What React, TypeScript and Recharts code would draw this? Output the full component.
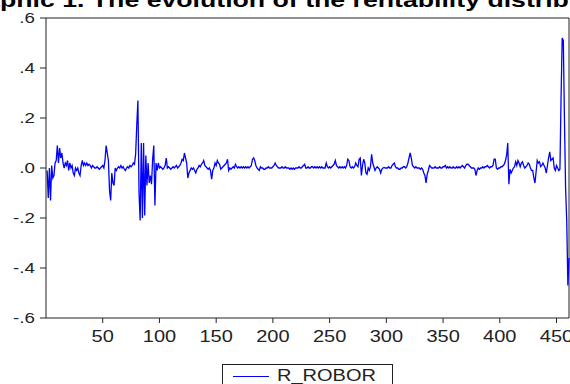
import { LineChart, Line, XAxis, YAxis, ReferenceLine } from "recharts";

const rRobor: number[] = [
  -0.01, -0.12, 0.0, -0.13, 0.01, -0.04, -0.03, 0.02, 0.03, 0.09,
  0.02, 0.08, 0.04, 0.06, 0.02, 0.0, 0.02, 0.01, 0.03, -0.01,
  0.02, 0.0, 0.01, -0.02, -0.03, 0.0, -0.01, 0.0, -0.02, -0.03,
  0.01, 0.03, 0.01, 0.02, 0.01, 0.02, 0.01, 0.015, 0.01, 0.0,
  0.01, 0.005, 0.0, 0.0, 0.005, 0.0, -0.005, 0.0, 0.005, 0.01,
  0.0, 0.03, 0.09, 0.06, 0.03, -0.09, -0.13, -0.02, -0.06, -0.07,
  0.0, -0.01, 0.0, 0.005, 0.0, 0.01, 0.0, 0.005, -0.005, -0.01,
  0.0, 0.005, 0.0, 0.01, 0.005, 0.01, 0.02, 0.015, 0.055, 0.17,
  0.27, -0.1, -0.21, 0.1, -0.2, 0.1, -0.19, 0.05, -0.07, 0.02,
  -0.06, -0.03, -0.065, 0.035, 0.09, -0.15, 0.02, -0.01, 0.02, 0.0,
  0.005, 0.0, -0.005, 0.0, 0.01, 0.04, 0.0, 0.005, 0.0, -0.005,
  0.0, 0.005, 0.0, 0.005, 0.01, 0.0, 0.005, 0.01, 0.02, 0.035,
  0.03, 0.06, 0.04, 0.02, -0.04, -0.02, -0.01, 0.0, -0.005, 0.0,
  -0.01, -0.02, -0.005, 0.0, 0.01, 0.005, 0.015, 0.02, 0.03, 0.01,
  0.005, 0.0, -0.005, 0.0, -0.01, -0.045, -0.01, 0.0, 0.02, 0.01,
  0.03, 0.02, 0.015, -0.005, 0.0, 0.005, 0.01, 0.015, 0.02, 0.035,
  -0.01, 0.0, -0.005, 0.0, 0.005, 0.0, 0.015, 0.005, 0.0, 0.005,
  0.0, 0.005, 0.0, 0.005, 0.0, 0.005, 0.0, 0.005, 0.0, 0.005,
  0.01, 0.035, 0.04, 0.03, 0.01, 0.0, -0.005, -0.01, 0.005, 0.0,
  0.0, -0.005, -0.005, 0.0, 0.0, 0.005, 0.0, 0.0, 0.0, 0.005,
  0.01, 0.02, 0.01, 0.005, 0.0, 0.0, 0.0, 0.005, 0.0, 0.0,
  0.005, 0.0, 0.0, 0.0, -0.005, 0.0, -0.005, 0.0, -0.005, 0.0,
  0.0, 0.0, 0.005, 0.0, 0.0, 0.005, 0.01, 0.015, 0.0, 0.0,
  0.005, 0.0, 0.0, 0.005, 0.005, 0.0, 0.005, 0.0, 0.005, 0.0,
  0.005, 0.0, 0.005, 0.0, 0.0, 0.0, 0.02, 0.005, 0.0, 0.005,
  0.0, 0.005, 0.01, 0.015, 0.03, 0.01, 0.005, 0.0, 0.005, 0.0,
  0.005, 0.0, 0.005, 0.0, 0.01, 0.035, 0.03, 0.005, 0.0, 0.005,
  0.0, 0.005, 0.02, 0.01, 0.005, 0.035, 0.04, -0.03, 0.01, 0.035,
  0.02, -0.02, -0.025, 0.0, -0.01, 0.005, 0.055, 0.02, 0.005, -0.01,
  0.0, 0.005, 0.0, -0.005, -0.02, -0.005, 0.0, 0.002, 0.0, 0.0,
  0.0, 0.005, 0.0, 0.0, 0.01, 0.015, 0.02, 0.005, 0.0, 0.0,
  -0.005, -0.005, 0.0, 0.0, 0.005, 0.005, 0.0, 0.005, 0.02, 0.04,
  0.06, 0.04, 0.01, 0.005, 0.0, 0.005, 0.0, 0.0, 0.0, -0.005,
  0.0, -0.005, -0.02, -0.03, -0.06, -0.025, -0.01, 0.01, 0.005, 0.0,
  0.0, 0.0, 0.005, 0.0, 0.0, 0.0, 0.005, 0.0, 0.0, 0.005,
  0.005, 0.01, 0.0, 0.005, 0.0, 0.005, 0.0, 0.0, 0.005, 0.0,
  0.0, 0.005, 0.0, 0.005, 0.0, 0.005, 0.01, 0.005, 0.0, 0.01,
  0.015, 0.015, 0.01, 0.005, 0.0, 0.0, 0.0, -0.005, -0.03, -0.01,
  0.0, -0.005, 0.0, 0.0, 0.005, 0.0, 0.005, 0.005, 0.01, 0.005,
  0.0, 0.005, 0.005, 0.01, 0.035, 0.035, 0.0, -0.005, 0.0, 0.0,
  0.005, 0.005, 0.01, 0.015, 0.03, 0.05, 0.1, -0.065, -0.005, -0.02,
  -0.01, 0.0, 0.005, 0.025, 0.01, 0.03, 0.02, 0.005, 0.02, 0.025,
  0.01, 0.0, 0.005, 0.01, 0.02, 0.015, 0.0, -0.01, -0.01, -0.04,
  -0.06, -0.015, 0.03, 0.02, 0.025, 0.005, 0.01, 0.02, 0.01, 0.0,
  -0.02, 0.01, 0.04, 0.065, 0.03, 0.035, 0.04, 0.0, -0.01, 0.01,
  0.0, -0.01, -0.005, 0.28, 0.52, 0.51, 0.19, -0.08, -0.21, -0.47,
  -0.36,
];

const xTicks = [50, 100, 150, 200, 250, 300, 350, 400, 450];
const yTicks = [0.6, 0.4, 0.2, 0, -0.2, -0.4, -0.6];

const title = "Graphic 1. The evolution of the rentability distribution";
const seriesName = "R_ROBOR";

const data = rRobor.map((v, i) => ({ obs: i + 1, r: v }));

const FONT = "'Liberation Sans', Arial, sans-serif";
const STRETCH = 1.25; // the source picture is stretched horizontally
const INK = "#222";

function fmtY(v: number) {
  if (Math.abs(v) < 1e-9) return ".0";
  const s = Math.abs(v).toFixed(1).replace(/^0/, "");
  return v < 0 ? "-" + s : s;
}

function YTick({ x, y, payload }: any) {
  return (
    <g transform={`translate(${x},${y})`}>
      <text
        transform={`scale(${STRETCH},1)`}
        textAnchor="end"
        dy="0.36em"
        fontSize={15}
        fontFamily={FONT}
        fill={INK}
      >
        {fmtY(payload.value)}
      </text>
    </g>
  );
}

function XTick({ x, y, payload }: any) {
  return (
    <g transform={`translate(${x},${y})`}>
      <text
        transform={`scale(${STRETCH},1)`}
        textAnchor="middle"
        dy="0.71em"
        fontSize={16}
        fontFamily={FONT}
        fill={INK}
      >
        {payload.value}
      </text>
    </g>
  );
}

export default function App() {
  return (
    <div
      style={{
        position: "absolute",
        left: 0,
        top: 0,
        width: 570,
        height: 384,
        background: "#fff",
        overflow: "hidden",
      }}
    >
      <LineChart
        width={570}
        height={384}
        data={data}
        margin={{ top: 18, right: 1, bottom: 0, left: 0 }}
      >
        <XAxis
          dataKey="obs"
          type="number"
          domain={[0, 461]}
          ticks={xTicks}
          height={66}
          tickSize={5}
          tickMargin={8}
          stroke={INK}
          tick={<XTick />}
        />
        <YAxis
          type="number"
          domain={[-0.6, 0.6]}
          ticks={yTicks}
          width={46}
          tickSize={6}
          tickMargin={5}
          stroke={INK}
          tick={<YTick />}
        />
        <ReferenceLine y={0.6} stroke={INK} strokeWidth={1} />
        <ReferenceLine x={461} stroke={INK} strokeWidth={1} />
        <Line
          type="linear"
          dataKey="r"
          stroke="#0000ff"
          strokeWidth={1.3}
          dot={false}
          isAnimationActive={false}
        />
      </LineChart>
      <svg
        width={570}
        height={384}
        style={{ position: "absolute", left: 0, top: 0, pointerEvents: "none" }}
      >
        <text
          transform={`translate(-46,7) scale(1.27,1)`}
          fontSize={21}
          fontWeight="bold"
          fontFamily={FONT}
          fill="#000"
        >
          {title}
        </text>
        <rect x={222.5} y={364.5} width={170} height={30} fill="none" stroke={INK} />
        <line x1={233} x2={269} y1={376.5} y2={376.5} stroke="#0000ff" strokeWidth={1} />
        <text
          transform={`translate(277,381) scale(${STRETCH},1)`}
          fontSize={16}
          fontFamily={FONT}
          fill={INK}
        >
          {seriesName}
        </text>
      </svg>
    </div>
  );
}
